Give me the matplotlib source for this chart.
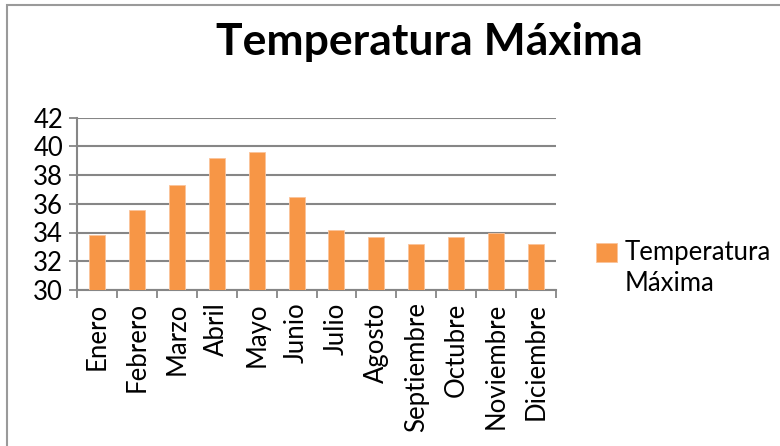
import matplotlib.pyplot as plt
from matplotlib.patches import Rectangle

meses = ['Enero', 'Febrero', 'Marzo', 'Abril', 'Mayo', 'Junio', 'Julio',
         'Agosto', 'Septiembre', 'Octubre', 'Noviembre', 'Diciembre']
temp_max = [33.8, 35.6, 37.3, 39.2, 39.6, 36.5, 34.2, 33.7, 33.2, 33.7, 34.0, 33.2]
y_ticks = [30, 32, 34, 36, 38, 40, 42]

plt.rcParams['font.family'] = ['Lato', 'DejaVu Sans']

fig = plt.figure(figsize=(7.8, 4.46), dpi=100)
W, H = 780, 446

# grey frame of the chart area (right and bottom edges fall outside the image)
fig.patches.append(Rectangle((7 / W, -0.5), 1.2, 1.5 - 5 / H, transform=fig.transFigure,
                             fill=False, edgecolor='#9a9a9a', linewidth=1.5))

ax = fig.add_axes([77 / W, 1 - 290 / H, (556 - 77) / W, (290 - 117.5) / H])
x = range(len(meses))
ax.bar(x, temp_max, width=0.4, color='#F79646', edgecolor='#FBC39A', linewidth=0.6,
       label='Temperatura\nMáxima', zorder=3)

ax.set_ylim(30, 42)
ax.set_yticks(y_ticks)
ax.set_xlim(-0.5, len(meses) - 0.5)
ax.set_xticks([i - 0.5 for i in range(len(meses) + 1)], minor=False)
ax.set_xticklabels([])
ax.set_xticks(list(x), minor=True)
ax.set_xticklabels(meses, minor=True, rotation=90, fontsize=18.5)
ax.tick_params(axis='x', which='minor', length=0, pad=9)
ax.tick_params(axis='x', which='major', length=6, width=1.3, color='#868686', direction='out')
ax.tick_params(axis='y', length=6, width=1.3, color='#868686', direction='out', labelsize=18.5, pad=4)

ax.grid(axis='y', color='#868686', linewidth=1.5, zorder=0)
for s in ['top', 'right']:
    ax.spines[s].set_visible(False)
for s in ['left', 'bottom']:
    ax.spines[s].set_color('#868686')
    ax.spines[s].set_linewidth(1.5)

fig.text(429 / W, 1 - 42 / H, 'Temperatura Máxima', ha='center', va='center',
         fontsize=32, fontweight='bold')

leg = ax.legend(loc='center left', bbox_to_anchor=(596 / W, 1 - 268 / H),
                bbox_transform=fig.transFigure, frameon=False, fontsize=18.5,
                handlelength=0.8, handleheight=0.8, handletextpad=0.3, borderaxespad=0,
                borderpad=0)
for t in leg.get_texts():
    t.set_linespacing(1.3)
# put the key next to the first line, like Excel does
h = leg.legend_handles[0]
h.set_y(h.get_y() + 12)

fig.savefig('out.png', dpi=100)
